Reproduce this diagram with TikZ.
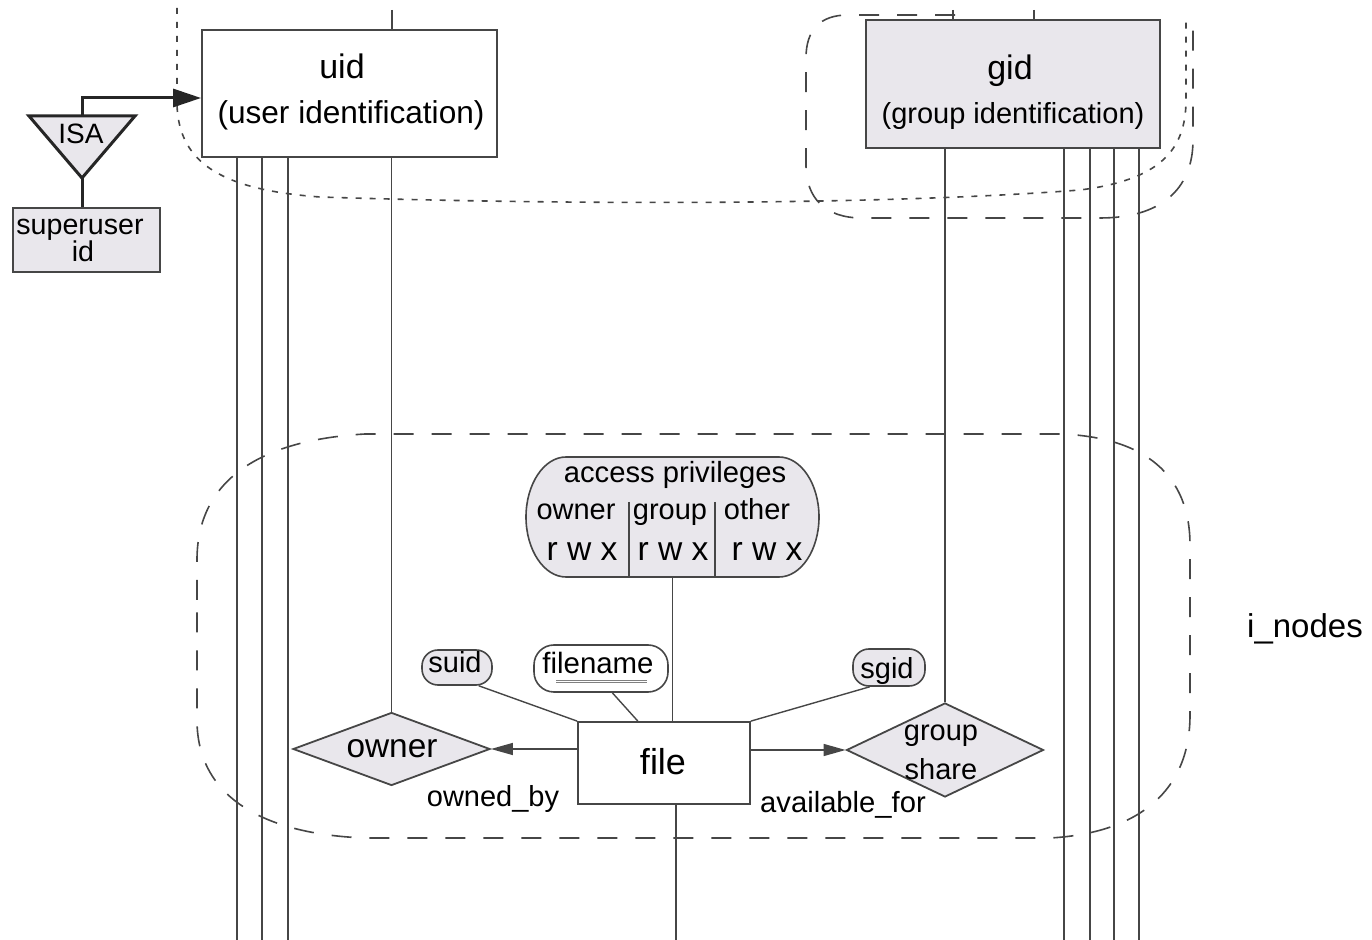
\documentclass[tikz,border=0pt]{standalone}
\usepackage{fontspec}
\setmainfont{Liberation Sans}
\usetikzlibrary{arrows.meta,shapes.geometric}
\definecolor{boxgrey}{RGB}{233,231,236}
\definecolor{linegrey}{RGB}{70,70,70}
\newcommand{\myfs}[1]{\fontsize{#1pt}{#1pt}\selectfont}
\begin{document}
\begin{tikzpicture}[x=0.5pt,y=-0.5pt,
  conn/.style={line width=0.7pt, draw=linegrey},
  box/.style={draw=linegrey, line width=0.9pt, rectangle, inner sep=0pt},
  attr/.style={draw=linegrey, line width=0.8pt, rectangle, rounded corners=8pt, inner sep=0pt},
  dia/.style={diamond, draw=linegrey, line width=0.9pt, fill=boxgrey, inner sep=0pt},
  lbl/.style={inner sep=0pt, text=black, anchor=base},
  dotline/.style={draw=linegrey, line width=0.8pt, dash pattern=on 3pt off 4pt},
  dashline/.style={draw=linegrey, line width=0.8pt, dash pattern=on 10pt off 9pt},
  arr/.style={conn, -{Triangle[length=11pt,width=6pt]}},
  thickarr/.style={draw=black!85, line width=1.5pt, -{Triangle[length=14pt,width=9pt]}}
]
\useasboundingbox (0,0) rectangle (1372,940);

% free end coordinates
\coordinate (t1) at (392,10);
\coordinate (t2) at (1034,10);
\coordinate (t3) at (953,10);
\coordinate (b1) at (237,940);
\coordinate (b2) at (262,940);
\coordinate (b3) at (288,940);
\coordinate (b4) at (676,940);
\coordinate (b5) at (1064,940);
\coordinate (b6) at (1090,940);
\coordinate (b7) at (1114,940);
\coordinate (b8) at (1139,940);

% region outlines
\draw[dotline] (177,8) -- (177,105) .. controls (179,165) and (225,190) .. (320,197)
  .. controls (600,206) and (900,204) .. (1080,190)
  .. controls (1160,180) and (1186,150) .. (1186,100) -- (1186,20);
\draw[dashline] (955,15) -- (848,15) .. controls (820,15) and (806,30) .. (806,58) -- (806,165)
  .. controls (806,198) and (825,218) .. (862,218) -- (1100,218)
  .. controls (1160,218) and (1193,190) .. (1193,140) -- (1193,25);
\draw[dashline] (197,600) -- (197,560) .. controls (197,480) and (260,440) .. (365,434) -- (1060,434)
  .. controls (1145,437) and (1190,475) .. (1190,545) -- (1190,715)
  .. controls (1190,790) and (1140,833) .. (1050,838) -- (365,838)
  .. controls (260,834) and (197,795) .. (197,720) -- cycle;

% entity boxes
\node[box, fill=white, minimum width=147.5pt, minimum height=63.5pt] (uid) at (349.5,93.5) {};
\node[box, fill=boxgrey, minimum width=147pt, minimum height=64pt] (gid) at (1013,84) {};
\node[box, fill=boxgrey, minimum width=73.5pt, minimum height=32pt] (su) at (86.5,240) {};
\node[box, fill=white, minimum width=86pt, minimum height=41pt] (file) at (664,763) {};

% relationships
\node[dia, minimum width=98.5pt, minimum height=36.5pt] (own) at (391.5,749) {};
\node[dia, minimum width=98.5pt, minimum height=47pt] (gs) at (945,750) {};

% attributes
\node[attr, fill=boxgrey, minimum width=35pt, minimum height=17.5pt] (suid) at (457,667.5) {};
\node[attr, fill=white, minimum width=67pt, minimum height=23.5pt, rounded corners=10pt] (fn) at (601,668.5) {};
\node[attr, fill=boxgrey, minimum width=36pt, minimum height=18.5pt] (sgid) at (889,667.5) {};

% access privileges
\node[inner sep=0pt, minimum width=146.5pt, minimum height=60pt] (ap) at (672.5,517) {};
\draw[draw=linegrey, line width=0.8pt, fill=boxgrey] (566,457) -- (779,457)
  .. controls (801,457) and (819,484) .. (819,517)
  .. controls (819,550) and (801,577) .. (779,577) -- (566,577)
  .. controls (544,577) and (526,550) .. (526,517)
  .. controls (526,484) and (544,457) .. (566,457) -- cycle;
\draw[conn] (629,502) -- (629,577);
\draw[conn] (715,502) -- (715,577);

% ISA
\coordinate (isaL) at (29,116);
\coordinate (isaR) at (135,116);
\coordinate (isaB) at (82,178);
\coordinate (isaT) at (82,116);
\coordinate (isaK) at (82,98);
\draw[draw=black!85, line width=1.5pt, fill=boxgrey, line join=miter] (isaL) -- (isaR) -- (isaB) -- cycle;
\draw[draw=black!85, line width=1.5pt] (isaB) -- (isaB |- su.north);
\draw[thickarr] (isaT) -- (isaK) -- (isaK -| uid.west);

% vertical connectors
\draw[conn] (t1) -- (t1 |- uid.north);
\draw[conn] (t2) -- (t2 |- gid.north);
\draw[conn] (t3) -- (t3 |- gid.north);
\draw[conn] (uid.south -| b1) -- (b1);
\draw[conn] (uid.south -| b2) -- (b2);
\draw[conn] (uid.south -| b3) -- (b3);
\draw[conn] (uid.south -| own.north) -- (own.north);
\draw[conn] (gid.south -| gs.north) -- (gs.north);
\draw[conn] (gid.south -| b5) -- (b5);
\draw[conn] (gid.south -| b6) -- (b6);
\draw[conn] (gid.south -| b7) -- (b7);
\draw[conn] (gid.south -| b8) -- (b8);
\draw[conn] (file.south -| b4) -- (b4);
\draw[conn] (ap.south) -- (ap.south |- file.north);

% attribute connectors
\draw[conn] (suid.-40) -- (file.north west);
\draw[conn] (fn.-65) -- (file.122);
\draw[conn] (sgid.-135) -- (file.north east);

% relationship arrows
\draw[arr] (own.east -| file.west) -- (own.east);
\draw[arr] (gs.west -| file.east) -- (gs.west);

% texts (placed on their baselines)
\node[lbl, font=\myfs{17}] (uidt) at (342,79) {uid};
\node[lbl, font=\myfs{15.8}] (uidt2) at (351,124) {(user identification)};
\node[lbl, font=\myfs{17}] (gidt) at (1010,80) {gid};
\node[lbl, font=\myfs{14.5}] (gidt2) at (1013,124) {(group identification)};
\node[lbl, font=\myfs{14}] (isa) at (81,144) {ISA};
\node[lbl, font=\myfs{14.3}] (sut1) at (80,235) {superuser};
\node[lbl, font=\myfs{14.3}] (sut2) at (83,262) {id};
\node[lbl, font=\myfs{14.6}] (apt) at (675,483) {access privileges};
\node[lbl, font=\myfs{14.5}] (apo) at (576,520) {owner};
\node[lbl, font=\myfs{14.5}] (apg) at (670,520) {group};
\node[lbl, font=\myfs{14.5}] (apx) at (757,520) {other};
\node[lbl, font=\myfs{16.8}] (rwx1) at (582,561) {r w x};
\node[lbl, font=\myfs{16.8}] (rwx2) at (673,561) {r w x};
\node[lbl, font=\myfs{16.8}] (rwx3) at (767,561) {r w x};
\node[lbl, font=\myfs{14.5}] (suidt) at (455,673) {suid};
\node[lbl, font=\myfs{14.7}] (fnt) at (598,674) {filename};
\draw[gray, line width=0.4pt, double=white, double distance=0.8pt] (556,681.5) -- (647,681.5);
\node[lbl, font=\myfs{14.5}] (sgidt) at (887,679) {sgid};
\node[lbl, font=\myfs{18}] (filet) at (663,775) {file};
\node[lbl, font=\myfs{16.7}] (ownt) at (392,758) {owner};
\node[lbl, font=\myfs{14.5}] (gst1) at (941,741) {group};
\node[lbl, font=\myfs{14.5}] (gst2) at (941,780) {share};
\node[lbl, font=\myfs{14.5}] (ob) at (493,807) {owned\_by};
\node[lbl, font=\myfs{14.6}] (af) at (843,813) {available\_for};
\node[lbl, font=\myfs{16.5}] (inodes) at (1305,638) {i\_nodes};
\end{tikzpicture}
\end{document}
